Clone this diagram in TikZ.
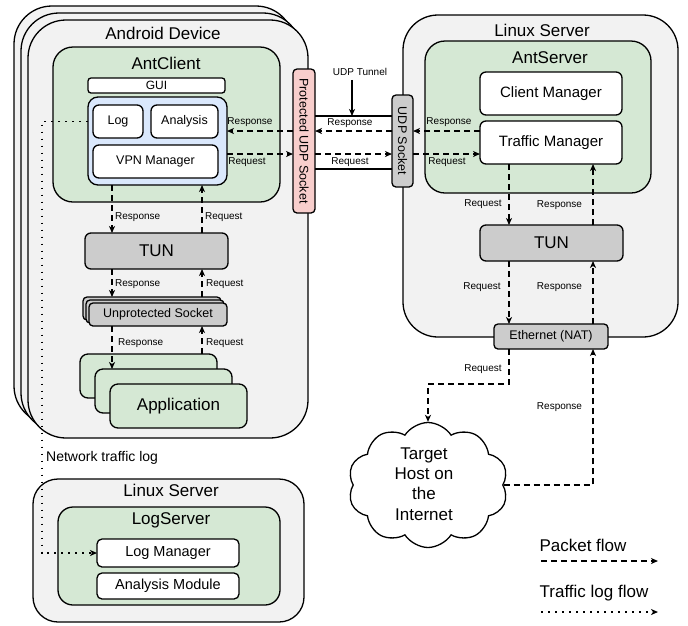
\documentclass[tikz,border=0pt]{standalone}
\usepackage{fontspec}
\setmainfont{Liberation Sans}
\usetikzlibrary{arrows.meta,shapes.symbols}
\definecolor{bggray}{HTML}{F2F2F2}
\definecolor{lgreen}{HTML}{D5E8D4}
\definecolor{lblue}{HTML}{DAE8FC}
\definecolor{lpink}{HTML}{F8CECC}
\definecolor{mgray}{HTML}{CCCCCC}
\begin{document}
\begin{tikzpicture}[x=1pt,y=-1pt,
  bx/.style={draw, line width=1.3pt, rectangle, inner sep=0pt, outer sep=0pt},
  wh/.style 2 args={minimum width=#1pt, minimum height=#2pt},
  ttl/.style={font=\fontsize{17}{20}\selectfont, inner sep=0pt},
  mid/.style={font=\fontsize{15}{18}\selectfont},
  sml/.style={font=\fontsize{12.5}{15}\selectfont},
  lbl/.style={font=\fontsize{10}{12}\selectfont, inner sep=0pt},
  tipx/.style={-{Stealth[length=7pt,width=6pt,inset=2pt]}},
  pk/.style={line width=1.3pt, dash pattern=on 6pt off 4pt, tipx},
  lg/.style={line width=1.3pt, dash pattern=on 1.6pt off 5.4pt, tipx}
]
\useasboundingbox (0,0) rectangle (688,625);

% ---------- Android device stack ----------
\node[bx, fill=bggray, rounded corners=38pt, wh={280}{418}] (andB) at (154,215) {};
\node[bx, fill=bggray, rounded corners=38pt, wh={280}{418}] (andM) at (161,222) {};
\node[bx, fill=bggray, rounded corners=38pt, wh={280}{418}] (andF) at (168,229) {};
\node[ttl] (andT) at (163,33) {Android Device};

\node[bx, fill=lgreen, rounded corners=20pt, wh={227}{155}] (antc) at (166.5,124.5) {};
\node[ttl] (antcT) at (166,63) {AntClient};
\node[bx, fill=white, rounded corners=3pt, wh={137}{15}, font=\fontsize{12}{14}\selectfont] (gui) at (156.5,85.5) {GUI};
\node[bx, fill=lblue, rounded corners=10pt, wh={139}{88}] (blue) at (157.5,141) {};
\node[bx, fill=white, rounded corners=6pt, wh={50}{33}, sml] (log) at (118,121.5) {Log};
\node[bx, fill=white, rounded corners=6pt, wh={67}{33}, sml] (ana) at (184.5,121.5) {Analysis};
\node[bx, fill=white, rounded corners=6pt, wh={125}{33}, sml] (vpn) at (155.5,161.5) {VPN Manager};

\node[bx, fill=mgray, rounded corners=6pt, wh={143}{36}, ttl] (tunL) at (156.5,251) {TUN};

\node[bx, fill=mgray, rounded corners=4pt, wh={138}{23}] (us1) at (152,308.5) {};
\node[bx, fill=mgray, rounded corners=4pt, wh={138}{23}] (us2) at (155,311.5) {};
\node[bx, fill=mgray, rounded corners=4pt, wh={138}{23}, sml] (us3) at (158,314.5) {Unprotected Socket};

\node[bx, fill=lgreen, rounded corners=8pt, wh={137}{44}] (app1) at (148.5,376) {};
\node[bx, fill=lgreen, rounded corners=8pt, wh={137}{44}] (app2) at (163.5,391) {};
\node[bx, fill=lgreen, rounded corners=8pt, wh={137}{44}, ttl] (app3) at (178.5,406) {Application};

% ---------- Linux server (AntServer) ----------
\node[bx, fill=bggray, rounded corners=35pt, wh={275}{322}] (srv) at (540.5,176) {};
\node[ttl] (srvT) at (542,30) {Linux Server};
\node[bx, fill=lgreen, rounded corners=20pt, wh={226}{152}] (ants) at (538,117) {};
\node[ttl] (antsT) at (550,58) {AntServer};
\node[bx, fill=white, rounded corners=6pt, wh={142}{43}, mid] (cm) at (551,93.5) {Client Manager};
\node[bx, fill=white, rounded corners=6pt, wh={142}{43}, mid] (tm) at (551,142.5) {Traffic Manager};
\node[bx, fill=mgray, rounded corners=6pt, wh={143}{36}, ttl] (tunR) at (551.5,243) {TUN};
\node[bx, fill=mgray, rounded corners=4pt, wh={114}{25}, sml] (eth) at (551,336.5) {Ethernet (NAT)};

% ---------- sockets ----------
\node[bx, fill=lpink, rounded corners=4pt, wh={22}{144}] (psock) at (304,141) {};
\node[sml, rotate=-90, inner sep=0pt] (psockT) at (psock.center) {Protected UDP Socket};
\node[bx, fill=mgray, rounded corners=4pt, wh={21}{92}] (usock) at (402.5,141) {};
\node[sml, rotate=-90, inner sep=0pt] (usockT) at (usock.center) {UDP Socket};

% ---------- cloud ----------
\node[cloud, draw, line width=1.3pt, fill=white, cloud puffs=10, cloud puff arc=115, aspect=1.28,
      minimum width=160pt, minimum height=125pt, inner sep=0pt] (cloud) at (428,485) {};
\node[ttl, align=center, font=\fontsize{17}{20.3}\selectfont] (cloudT) at (424,484) {Target\\Host on\\the\\Internet};

% ---------- Log server ----------
\node[bx, fill=bggray, rounded corners=25pt, wh={271}{143}] (lsrv) at (168.5,550.5) {};
\node[ttl] (lsrvT) at (171,490) {Linux Server};
\node[bx, fill=lgreen, rounded corners=15pt, wh={222}{98}] (logs) at (169,556) {};
\node[ttl] (logsT) at (171,520) {LogServer};
\node[bx, fill=white, rounded corners=5pt, wh={142}{28}, font=\fontsize{14.5}{17}\selectfont] (lm) at (168,553) {Log Manager};
\node[bx, fill=white, rounded corners=5pt, wh={142}{26}, font=\fontsize{14.5}{17}\selectfont] (am) at (168,586) {Analysis Module};

% ---------- helper coordinates ----------
\coordinate (rY) at (0,131);
\coordinate (qY) at (0,154);
\coordinate (lx1) at (112,0);
\coordinate (lx2) at (202,0);
\coordinate (rx1) at (509,0);
\coordinate (rx2) at (593,0);
\coordinate (dx) at (42,0);
\coordinate (tunTop) at (352,116);
\coordinate (tunBot) at (352,169);

% ---------- tunnel ----------
\draw[line width=1.3pt] (psock.east |- tunTop) -- (usock.west |- tunTop);
\draw[line width=1.3pt] (psock.east |- tunBot) -- (usock.west |- tunBot);
\node[lbl] (udpt) at (360,72) {UDP Tunnel};
\draw[line width=1.3pt, tipx] (udpt.south -| tunTop) ++(0,4) -- (tunTop);

% ---------- horizontal packet flows ----------
\draw[pk] (tm.west |- rY) -- (usock.east |- rY);
\draw[pk] (usock.west |- rY) -- (psock.east |- rY);
\draw[pk] (psock.west |- rY) -- (blue.east |- rY);
\draw[pk] (blue.east |- qY) -- (psock.west |- qY);
\draw[pk] (psock.east |- qY) -- (usock.west |- qY);
\draw[pk] (usock.east |- qY) -- (tm.west |- qY);
\node[lbl] (l1) at (250,122) {Response};
\node[lbl] (l2) at (247,162) {Request};
\node[lbl] (l3) at (350,123) {Response};
\node[lbl] (l4) at (350,162) {Request};
\node[lbl] (l5) at (449,122) {Response};
\node[lbl] (l6) at (447,162) {Request};

% ---------- left vertical flows ----------
\draw[pk] (blue.south -| lx1) -- (tunL.north -| lx1);
\draw[pk] (tunL.north -| lx2) -- (blue.south -| lx2);
\draw[pk] (tunL.south -| lx1) -- (us1.north -| lx1);
\draw[pk] (us1.north -| lx2) -- (tunL.south -| lx2);
\draw[pk] (us3.south -| lx1) -- (app2.north -| lx1);
\draw[pk] (app1.north -| lx2) -- (us3.south -| lx2);
\node[lbl, anchor=west] (l7) at (115,217) {Response};
\node[lbl, anchor=west] (l8) at (205,217) {Request};
\node[lbl, anchor=west] (l9) at (115,284) {Response};
\node[lbl, anchor=west] (l10) at (206,284) {Request};
\node[lbl, anchor=west] (l11) at (118,343) {Response};
\node[lbl, anchor=west] (l12) at (206,343) {Request};

% ---------- right vertical flows ----------
\draw[pk] (tm.south -| rx1) -- (tunR.north -| rx1);
\draw[pk] (tunR.north -| rx2) -- (tm.south -| rx2);
\draw[pk] (tunR.south -| rx1) -- (eth.north -| rx1);
\draw[pk] (eth.north -| rx2) -- (tunR.south -| rx2);
\draw[pk] (eth.south -| rx1) -- ++(0,35) -| (cloud.north);
\draw[pk] (cloud.east) -| (eth.south -| rx2);
\node[lbl] (l13) at (483,204) {Request};
\node[lbl] (l14) at (559.5,205) {Response};
\node[lbl] (l15) at (482,287) {Request};
\node[lbl] (l16) at (559.5,287) {Response};
\node[lbl] (l17) at (483,369) {Request};
\node[lbl] (l18) at (559.5,407) {Response};

% ---------- traffic log flow ----------
\draw[lg] (blue.west |- log.west) -- (dx |- log.west) -- (dx |- lm.west) -- (lm.west);
\node[font=\fontsize{14}{17}\selectfont, inner sep=0pt, anchor=west] (ntl) at (46,458) {Network traffic log};

% ---------- legend ----------
\node[ttl] (lgP) at (583,545) {Packet flow};
\coordinate (pf1) at (541,561);
\coordinate (pf2) at (658,561);
\draw[pk] (pf1) -- (pf2);
\node[ttl] (lgL) at (594,593) {Traffic log flow};
\coordinate (tf1) at (541,612);
\coordinate (tf2) at (658,612);
\draw[lg] (tf1) -- (tf2);
\end{tikzpicture}
\end{document}
